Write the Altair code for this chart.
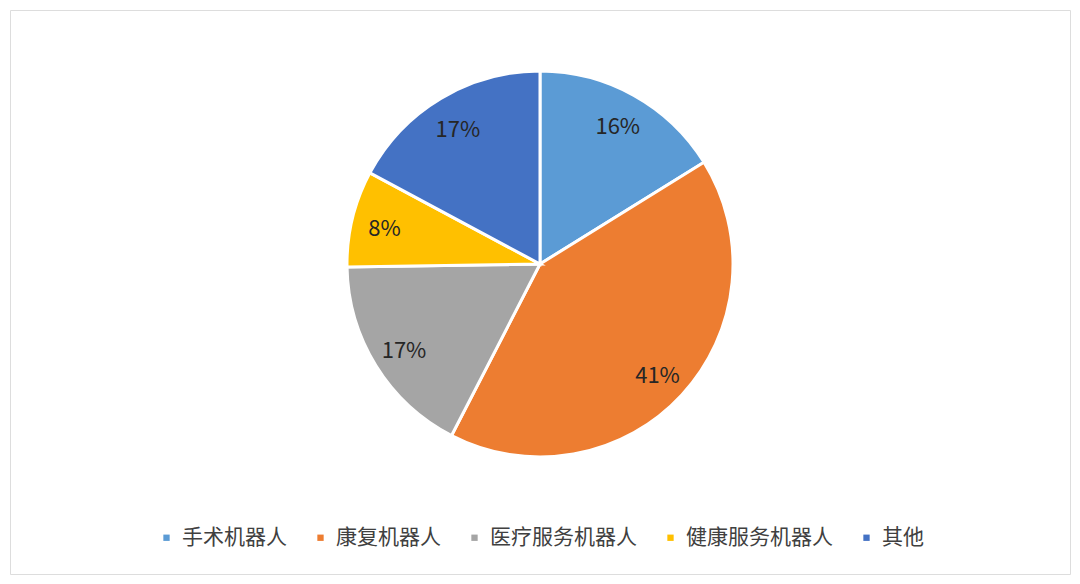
import altair as alt
import pandas as pd

categories = ["手术机器人", "康复机器人", "医疗服务机器人", "健康服务机器人", "其他"]
values = [16, 41, 17, 8, 17]
labels = ["16%", "41%", "17%", "8%", "17%"]
colors = ["#5B9BD5", "#ED7D31", "#A5A5A5", "#FFC000", "#4472C4"]

df = pd.DataFrame({
    "cat": categories,
    "value": values,
    "label": labels,
    "order": list(range(len(categories))),
})

FONT = "Noto Sans CJK SC"

base = alt.Chart(df).encode(
    theta=alt.Theta("value:Q", stack=True),
    order=alt.Order("order:Q"),
    x=alt.value(530),
    y=alt.value(254),
)

pie = base.mark_arc(radius=193, stroke="white", strokeWidth=3).encode(
    color=alt.Color(
        "cat:N",
        scale=alt.Scale(domain=categories, range=colors),
        legend=alt.Legend(
            title=None,
            orient="none",
            legendX=146,
            legendY=517,
            direction="horizontal",
            columns=5,
            symbolType="square",
            symbolSize=40,
            symbolStrokeWidth=0,
            labelFontSize=21,
            labelFont=FONT,
            labelColor="#404040",
            labelOffset=5,
            columnPadding=23,
            labelLimit=400,
        ),
    )
)

text = base.mark_text(radius=160, fontSize=22, font=FONT, fill="#262626", dy=3).encode(
    text="label:N",
    detail="cat:N",
)

chart = (
    alt.layer(pie, text)
    .properties(width=1060, height=564, autosize=alt.AutoSizeParams(type="none"), padding=2)
    .configure_view(stroke="#D9D9D9", strokeWidth=2)
    .configure(background="white")
)

chart.save("out.html", embed_options={"renderer": "svg", "actions": False})
